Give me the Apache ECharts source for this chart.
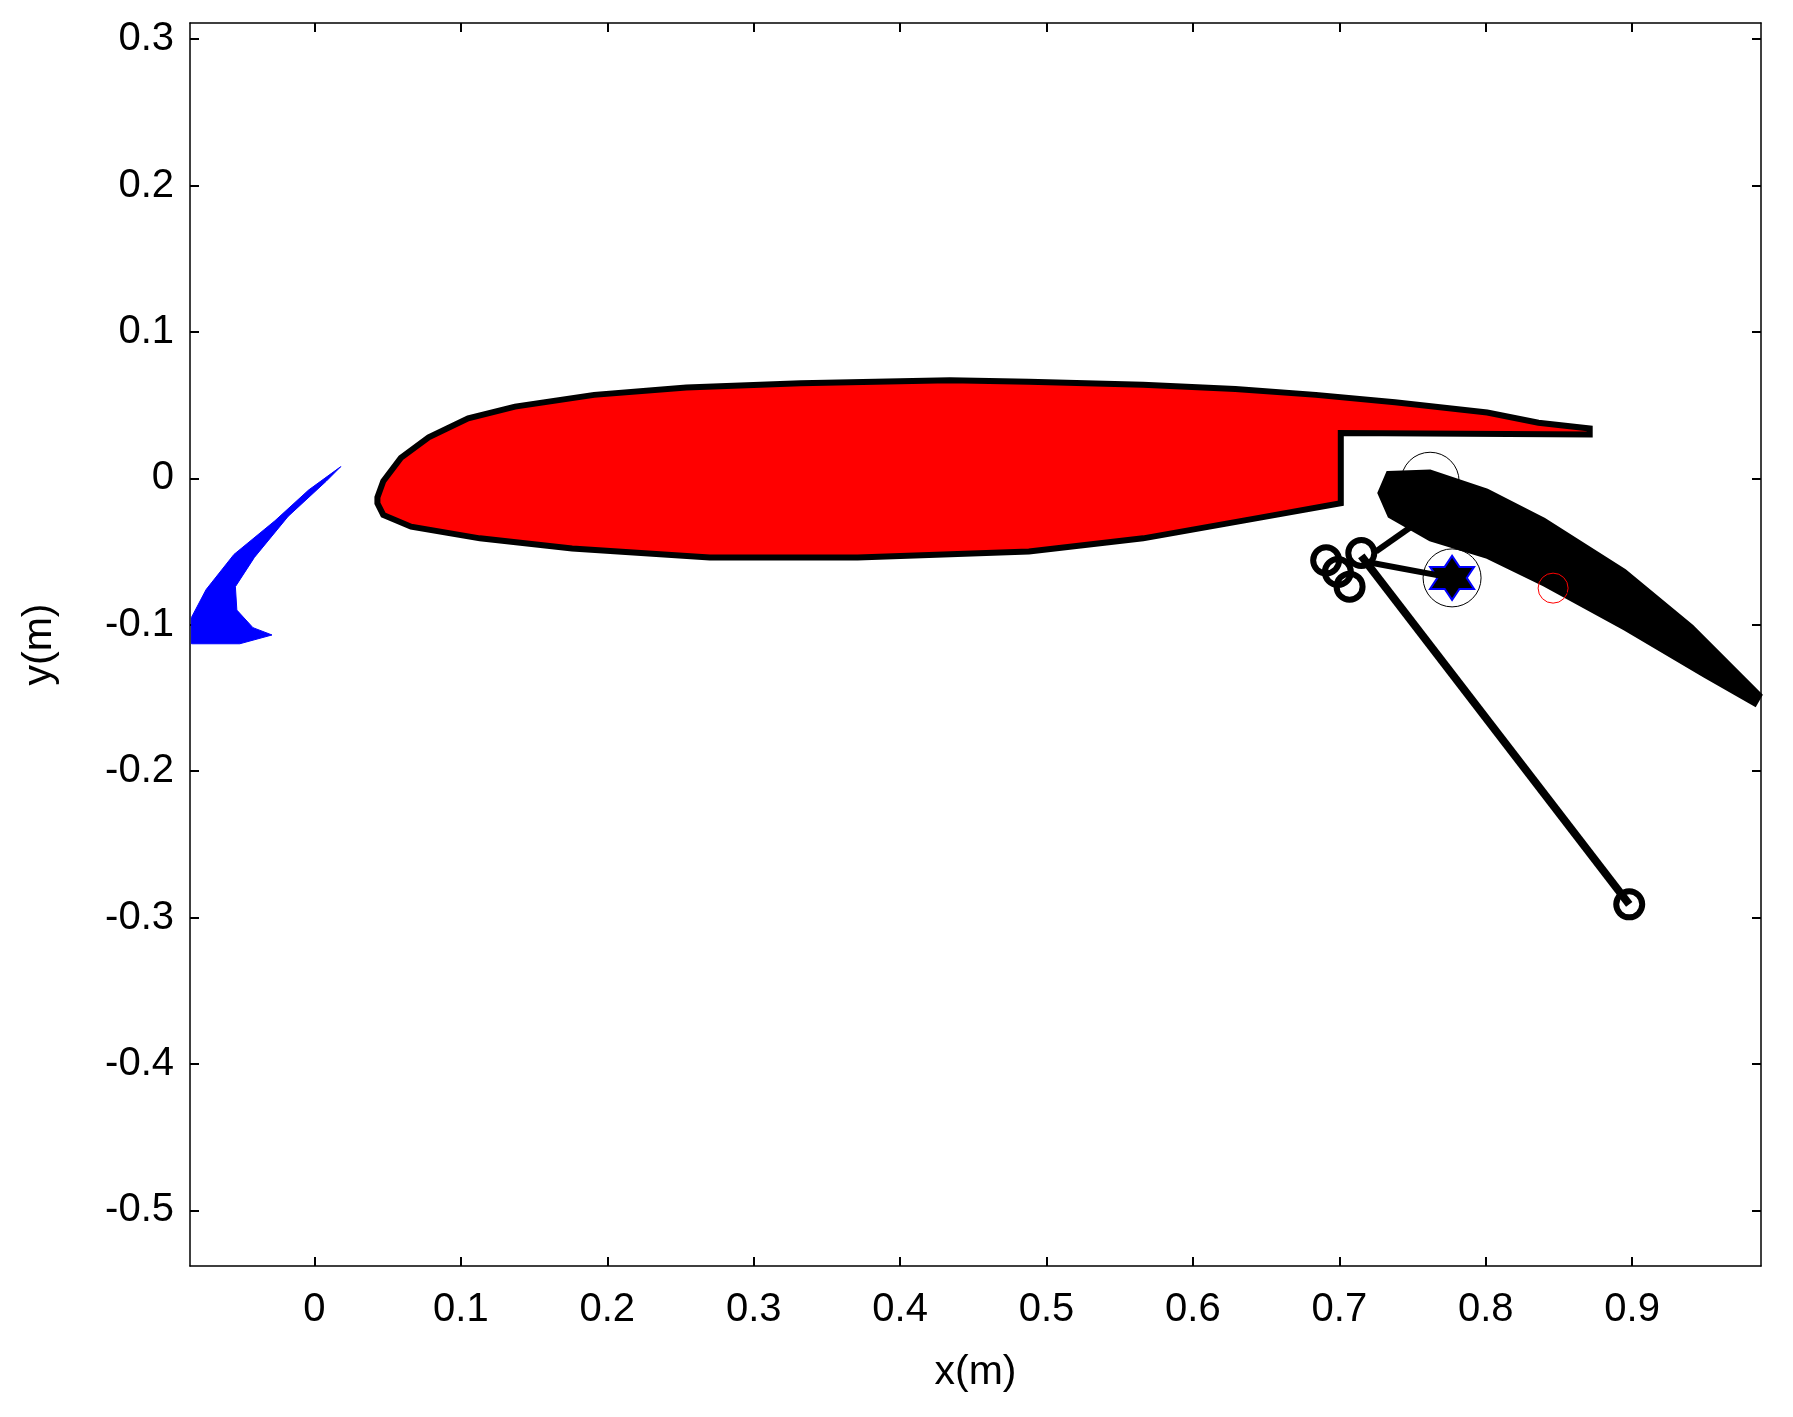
<!DOCTYPE html>
<html>
<head>
<meta charset="utf-8">
<script src="https://cdn.jsdelivr.net/npm/echarts@6/dist/echarts.min.js"></script>
<style>html,body{margin:0;padding:0;background:#fff}#main{width:1793px;height:1417px}</style>
</head>
<body>
<div id="main"></div>
<script>
// main element outline (x, y in metres)
var mainElement = [
    [0.043,-0.013],[0.047,-0.002],[0.059,0.014],[0.078,0.028],[0.105,0.041],[0.137,0.049],
    [0.191,0.057],[0.254,0.062],[0.332,0.065],[0.434,0.067],[0.488,0.066],[0.566,0.064],
    [0.629,0.061],[0.684,0.057],[0.738,0.052],[0.801,0.045],[0.836,0.038],[0.871,0.034],
    [0.871,0.030],[0.701,0.031],[0.701,-0.017],[0.645,-0.027],[0.566,-0.041],[0.488,-0.050],
    [0.371,-0.054],[0.270,-0.054],[0.176,-0.048],[0.113,-0.041],[0.066,-0.033],[0.047,-0.025],
    [0.043,-0.017]
];
// slat
var slat = [
    [0.018,0.008],[-0.004,-0.008],[-0.027,-0.029],[-0.055,-0.052],[-0.074,-0.076],[-0.084,-0.095],
    [-0.084,-0.113],[-0.051,-0.113],[-0.029,-0.107],[-0.042,-0.102],[-0.053,-0.090],[-0.054,-0.074],
    [-0.041,-0.054],[-0.018,-0.026],[0.008,-0.002]
];
// flap
var flap = [
    [0.733,0.004],[0.762,0.005],[0.801,-0.008],[0.840,-0.028],[0.895,-0.063],[0.941,-0.101],
    [0.988,-0.148],[0.984,-0.155],[0.949,-0.135],[0.895,-0.103],[0.840,-0.073],[0.801,-0.054],
    [0.762,-0.042],[0.734,-0.026],[0.727,-0.010]
];
// linkage bars
var barLong = [[0.715,-0.053],[0.898,-0.291]];
var barStar = [[0.718,-0.057],[0.777,-0.068]];
var barFlap = [[0.725,-0.050],[0.752,-0.031]];
var hinges = [[0.691,-0.056],[0.699,-0.064],[0.707,-0.074],[0.715,-0.051],[0.898,-0.291]];
var starPoint = [[0.777,-0.068]];
var redPoint = [[0.846,-0.075]];
var thinLine = [[0.846,-0.073],[0.957,-0.134]];
var leCircle = [[0.762,-0.002]];

var xTicks = [0,0.1,0.2,0.3,0.4,0.5,0.6,0.7,0.8,0.9];
var yTicks = [0.3,0.2,0.1,0,-0.1,-0.2,-0.3,-0.4,-0.5];

var fontFam = 'Liberation Sans';
function polygonItem(points, fill, stroke, width) {
    return {
        type: 'custom',
        coordinateSystem: 'cartesian2d',
        renderItem: function (params, api) {
            if (params.dataIndex > 0) return;
            var pts = points.map(function (p) { return api.coord(p); });
            return {
                type: 'polygon',
                shape: {points: pts},
                style: {fill: fill, stroke: stroke, lineWidth: width}
            };
        },
        data: [points[0]],
        silent: true
    };
}
function bar(points, w) {
    return {type: 'line', data: points, showSymbol: false, silent: true,
        lineStyle: {color: '#000', width: w}};
}
function ring(points, size, color, w) {
    return {type: 'scatter', data: points, symbol: 'circle', symbolSize: size, silent: true,
        itemStyle: {color: 'rgba(0,0,0,0)', borderColor: color, borderWidth: w, opacity: 1}};
}
var star = 'path://M0,-10L2.89,-5L8.66,-5L5.77,0L8.66,5L2.89,5L0,10L-2.89,5L-8.66,5L-5.77,0L-8.66,-5L-2.89,-5Z';

var axisCommon = {
    type: 'value',
    axisLine: {show: true, onZero: false, lineStyle: {color: '#000', width: 1.5}},
    splitLine: {show: false},
    axisTick: {inside: true, length: 9, lineStyle: {color: '#000', width: 2}}
};
function fmt(v) { return String(Math.round(v * 10) / 10); }

var myChart = echarts.init(document.getElementById('main'));
var option = {
    animation: false,
    backgroundColor: '#fff',
    grid: {left: 190, right: 32, top: 23, bottom: 151},
    xAxis: [
        Object.assign({}, axisCommon, {
            min: -0.085, max: 0.988, position: 'bottom',
            name: 'x(m)', nameLocation: 'middle', nameGap: 86,
            nameTextStyle: {fontFamily: fontFam, fontSize: 41, color: '#000'},
            axisTick: Object.assign({}, axisCommon.axisTick, {customValues: xTicks}),
            axisLabel: {customValues: xTicks, formatter: fmt, margin: 24,
                fontFamily: fontFam, fontSize: 40, color: '#000'}
        }),
        Object.assign({}, axisCommon, {
            min: -0.085, max: 0.988, position: 'top',
            axisTick: Object.assign({}, axisCommon.axisTick, {customValues: xTicks}),
            axisLabel: {show: false}
        })
    ],
    yAxis: [
        Object.assign({}, axisCommon, {
            min: -0.538, max: 0.311, position: 'left',
            name: 'y(m)', nameLocation: 'middle', nameGap: 130,
            nameTextStyle: {fontFamily: fontFam, fontSize: 41, color: '#000'},
            axisTick: Object.assign({}, axisCommon.axisTick, {customValues: yTicks}),
            axisLabel: {customValues: yTicks, formatter: fmt, margin: 16,
                fontFamily: fontFam, fontSize: 40, color: '#000'}
        }),
        Object.assign({}, axisCommon, {
            min: -0.538, max: 0.311, position: 'right',
            axisTick: Object.assign({}, axisCommon.axisTick, {customValues: yTicks}),
            axisLabel: {show: false}
        })
    ],
    series: [
        polygonItem(slat, '#0000ff', '#0000ff', 1),
        polygonItem(mainElement, '#ff0000', '#000', 6),
        ring(leCircle, 58, '#000', 1),
        polygonItem(flap, '#000', '#000', 3),
        bar(thinLine, 1),
        bar(barLong, 8),
        bar(barStar, 6),
        bar(barFlap, 6),
        ring(hinges, 26, '#000', 6),
        ring(starPoint, 58, '#000', 1),
        {type: 'scatter', data: starPoint, symbol: star, symbolSize: 44, silent: true,
            itemStyle: {color: '#000', borderColor: '#0000ff', borderWidth: 2, opacity: 1}},
        ring(redPoint, 30, '#ff0000', 1)
    ]
};
myChart.setOption(option, true);
</script>
</body>
</html>
